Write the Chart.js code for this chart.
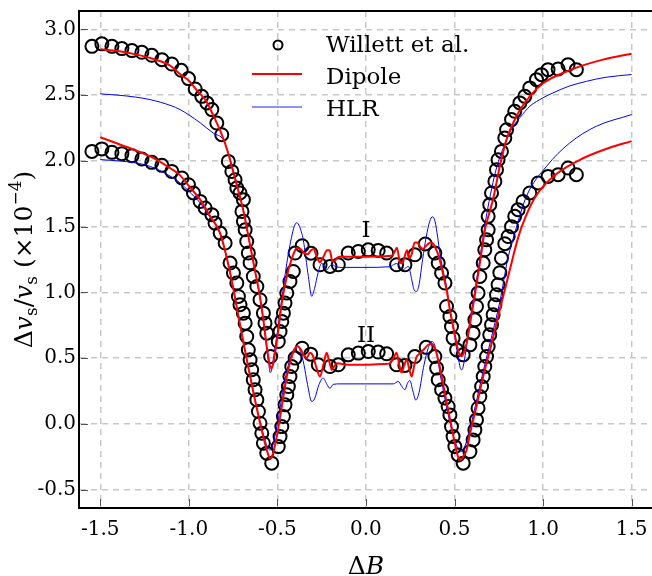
<!DOCTYPE html>
<html>
<head>
  <meta charset="UTF-8">
  <title>Willett vs Dipole vs HLR</title>
  <script src="https://cdn.jsdelivr.net/npm/chart.js"></script>
  <style>
    body { margin: 0; padding: 0; background: white; }
    #grafico { display: block; }
  </style>
</head>
<body>
  <canvas id="grafico" width="652" height="576"></canvas>

  <script>
    // eixos
    const xTickValues = [-1.5, -1.0, -0.5, 0.0, 0.5, 1.0, 1.5];
    const yTickValues = [-0.5, 0.0, 0.5, 1.0, 1.5, 2.0, 2.5, 3.0];

    // Willett et al. - curva I (superior)
    const willettIx = [-1.547,-1.491,-1.434,-1.378,-1.321,-1.265,-1.209,-1.152,-1.096,-1.043,-1.002,-0.964,-0.927,-0.898,-0.870,-0.842,-0.814,-0.777,-0.757,-0.739,-0.729,-0.711,-0.692,-0.700,-0.692,-0.682,-0.673,-0.664,-0.654,-0.636,-0.616,-0.598,-0.579,-0.570,-0.560,-0.538,-0.495,-0.485,-0.475,-0.466,-0.457,-0.447,-0.429,-0.410,-0.400,-0.360,-0.310,-0.259,-0.203,-0.156,-0.100,-0.043,0.013,0.069,0.117,0.173,0.220,0.276,0.335,0.389,0.408,0.427,0.446,0.455,0.474,0.483,0.492,0.512,0.549,0.587,0.605,0.615,0.624,0.633,0.643,0.662,0.671,0.681,0.690,0.690,0.699,0.709,0.728,0.737,0.746,0.765,0.784,0.794,0.822,0.840,0.869,0.897,0.925,0.963,0.991,1.028,1.085,1.141,1.188];
    const willettIy = [2.871,2.890,2.871,2.854,2.839,2.826,2.803,2.770,2.737,2.689,2.626,2.547,2.491,2.441,2.390,2.288,2.199,1.996,1.920,1.857,1.794,1.756,1.705,1.616,1.540,1.476,1.387,1.299,1.225,1.121,1.045,0.944,0.842,0.766,0.690,0.512,0.626,0.702,0.779,0.842,0.919,0.995,1.083,1.159,1.299,1.355,1.298,1.210,1.197,1.210,1.299,1.311,1.324,1.319,1.299,1.210,1.210,1.286,1.368,1.299,1.223,1.147,1.071,0.893,0.817,0.740,0.652,0.563,0.525,0.601,0.690,0.791,0.893,0.995,1.121,1.223,1.324,1.400,1.476,1.578,1.667,1.756,1.844,1.933,2.009,2.072,2.174,2.237,2.314,2.377,2.441,2.491,2.555,2.618,2.656,2.694,2.699,2.732,2.694];

    // Willett et al. - curva II (inferior)
    const willettIIx = [-1.547,-1.491,-1.434,-1.378,-1.321,-1.265,-1.209,-1.152,-1.096,-1.039,-1.002,-0.974,-0.936,-0.908,-0.870,-0.852,-0.823,-0.795,-0.767,-0.748,-0.729,-0.720,-0.711,-0.692,-0.682,-0.673,-0.664,-0.654,-0.645,-0.636,-0.626,-0.616,-0.607,-0.598,-0.588,-0.579,-0.560,-0.532,-0.495,-0.485,-0.475,-0.466,-0.457,-0.447,-0.438,-0.429,-0.419,-0.400,-0.360,-0.312,-0.269,-0.203,-0.156,-0.100,-0.043,0.013,0.069,0.117,0.173,0.220,0.276,0.340,0.389,0.399,0.408,0.427,0.446,0.464,0.474,0.483,0.492,0.502,0.521,0.549,0.587,0.605,0.615,0.624,0.633,0.643,0.653,0.662,0.671,0.681,0.690,0.699,0.709,0.718,0.728,0.737,0.746,0.756,0.765,0.784,0.803,0.822,0.840,0.859,0.887,0.925,0.972,1.028,1.085,1.141,1.188];
    const willettIIy = [2.072,2.091,2.065,2.055,2.040,2.014,1.989,1.966,1.920,1.870,1.819,1.756,1.692,1.642,1.591,1.527,1.451,1.375,1.223,1.147,1.071,0.969,0.906,0.842,0.766,0.664,0.563,0.487,0.411,0.335,0.259,0.183,0.094,0.005,-0.071,-0.147,-0.223,-0.299,-0.173,-0.097,-0.021,0.056,0.145,0.221,0.284,0.360,0.436,0.500,0.575,0.530,0.449,0.436,0.449,0.525,0.538,0.550,0.546,0.533,0.449,0.444,0.512,0.582,0.512,0.424,0.335,0.259,0.196,0.132,0.068,-0.021,-0.097,-0.173,-0.236,-0.299,-0.211,-0.122,-0.046,0.030,0.119,0.208,0.284,0.360,0.436,0.512,0.588,0.677,0.753,0.830,0.906,0.982,1.058,1.150,1.260,1.370,1.425,1.500,1.578,1.629,1.692,1.756,1.832,1.882,1.895,1.946,1.895];

    // Dipole - I
    const dipoleIx = [-1.5,-1.4,-1.3,-1.2,-1.1,-1.05,-1.0,-0.95,-0.9,-0.86,-0.82,-0.78,-0.75,-0.72,-0.69,-0.66,-0.63,-0.6,-0.58,-0.56,-0.545,-0.535,-0.525,-0.513,-0.494,-0.475,-0.447,-0.42,-0.4,-0.39,-0.37,-0.35,-0.33,-0.31,-0.295,-0.28,-0.26,-0.24,-0.22,-0.205,-0.19,-0.178,-0.165,-0.15,-0.1,0,0.1,0.15,0.162,0.175,0.19,0.205,0.22,0.232,0.245,0.258,0.275,0.29,0.305,0.32,0.345,0.365,0.38,0.395,0.41,0.43,0.455,0.475,0.5,0.52,0.532,0.54,0.55,0.568,0.59,0.615,0.643,0.671,0.7,0.718,0.756,0.793,0.85,0.925,1.0,1.15,1.338,1.5];
    const dipoleIy = [2.85,2.835,2.81,2.775,2.72,2.66,2.61,2.53,2.45,2.34,2.22,2.07,1.92,1.77,1.61,1.40,1.19,0.98,0.80,0.59,0.46,0.42,0.45,0.54,0.72,0.92,1.12,1.25,1.32,1.34,1.33,1.30,1.29,1.32,1.33,1.28,1.23,1.27,1.32,1.32,1.24,1.235,1.26,1.27,1.27,1.27,1.275,1.28,1.31,1.34,1.24,1.22,1.28,1.32,1.26,1.29,1.38,1.38,1.35,1.33,1.36,1.38,1.37,1.33,1.28,1.17,1.02,0.86,0.69,0.56,0.52,0.515,0.53,0.61,0.78,0.98,1.22,1.47,1.62,1.71,1.96,2.16,2.34,2.49,2.59,2.69,2.77,2.815];

    // Dipole - II
    const dipoleIIx = [-1.5,-1.4,-1.3,-1.218,-1.1,-1.049,-1.0,-0.936,-0.88,-0.823,-0.767,-0.72,-0.673,-0.626,-0.579,-0.555,-0.541,-0.53,-0.515,-0.504,-0.475,-0.447,-0.419,-0.4,-0.385,-0.37,-0.354,-0.335,-0.316,-0.3,-0.28,-0.26,-0.24,-0.222,-0.208,-0.193,-0.178,-0.165,-0.1,0,0.1,0.135,0.155,0.173,0.188,0.201,0.215,0.23,0.244,0.258,0.272,0.286,0.3,0.323,0.35,0.37,0.39,0.408,0.446,0.483,0.52,0.534,0.548,0.568,0.59,0.615,0.662,0.709,0.756,0.812,0.86,0.9,0.963,1.075,1.226,1.376,1.5];
    const dipoleIIy = [2.18,2.13,2.08,2.034,1.94,1.89,1.81,1.705,1.58,1.45,1.15,0.82,0.49,0.18,-0.10,-0.22,-0.265,-0.25,-0.17,-0.10,0.13,0.36,0.51,0.575,0.59,0.57,0.53,0.50,0.54,0.52,0.43,0.36,0.45,0.54,0.48,0.41,0.44,0.46,0.45,0.45,0.455,0.46,0.50,0.54,0.45,0.39,0.44,0.49,0.42,0.36,0.44,0.51,0.53,0.56,0.60,0.61,0.57,0.49,0.23,-0.02,-0.25,-0.275,-0.25,-0.20,-0.06,0.08,0.36,0.61,0.87,1.17,1.42,1.57,1.74,1.90,2.02,2.10,2.15];

    // HLR - I
    const hlrIx = [-1.5,-1.4,-1.3,-1.218,-1.1,-1.049,-1.0,-0.936,-0.861,-0.805,-0.77,-0.73,-0.69,-0.66,-0.63,-0.6,-0.58,-0.56,-0.548,-0.541,-0.533,-0.52,-0.5,-0.475,-0.447,-0.42,-0.405,-0.391,-0.375,-0.354,-0.325,-0.306,-0.29,-0.27,-0.25,-0.235,-0.222,-0.205,-0.19,-0.17,-0.147,0,0.135,0.155,0.173,0.195,0.21,0.228,0.24,0.255,0.272,0.286,0.3,0.32,0.34,0.36,0.376,0.39,0.405,0.417,0.435,0.455,0.475,0.5,0.52,0.532,0.54,0.548,0.56,0.58,0.6,0.625,0.65,0.68,0.71,0.74,0.77,0.8,0.83,0.87,0.925,1.0,1.056,1.15,1.245,1.35,1.5];
    const hlrIy = [2.51,2.50,2.485,2.466,2.42,2.39,2.35,2.29,2.21,2.16,2.03,1.83,1.61,1.40,1.19,0.97,0.79,0.57,0.45,0.39,0.41,0.52,0.70,0.95,1.22,1.42,1.50,1.53,1.50,1.40,1.12,0.97,1.03,1.15,1.22,1.20,1.17,1.20,1.21,1.195,1.19,1.19,1.195,1.21,1.22,1.19,1.172,1.19,1.197,1.12,1.02,1.007,1.06,1.25,1.42,1.54,1.575,1.54,1.42,1.30,1.17,1.045,0.86,0.67,0.51,0.43,0.41,0.43,0.52,0.72,0.90,1.10,1.32,1.58,1.79,1.96,2.08,2.18,2.26,2.33,2.415,2.48,2.517,2.57,2.605,2.635,2.657];

    // HLR - II
    const hlrIIx = [-1.5,-1.4,-1.3,-1.218,-1.1,-1.049,-1.0,-0.936,-0.88,-0.823,-0.767,-0.72,-0.673,-0.626,-0.579,-0.555,-0.541,-0.53,-0.515,-0.5,-0.475,-0.447,-0.42,-0.4,-0.385,-0.37,-0.35,-0.33,-0.306,-0.29,-0.265,-0.241,-0.22,-0.203,-0.185,-0.147,0,0.154,0.182,0.205,0.22,0.235,0.248,0.265,0.282,0.3,0.325,0.35,0.37,0.385,0.4,0.42,0.446,0.483,0.52,0.54,0.558,0.58,0.615,0.662,0.709,0.756,0.8,0.84,0.906,1.019,1.15,1.3,1.5];
    const hlrIIy = [2.01,2.0,1.985,1.958,1.88,1.832,1.77,1.68,1.57,1.44,1.15,0.82,0.49,0.18,-0.08,-0.18,-0.20,-0.18,-0.10,0.0,0.20,0.40,0.53,0.58,0.59,0.55,0.45,0.30,0.17,0.19,0.30,0.348,0.30,0.27,0.30,0.304,0.304,0.304,0.322,0.28,0.26,0.31,0.33,0.25,0.18,0.24,0.43,0.57,0.626,0.61,0.53,0.37,0.19,-0.04,-0.19,-0.21,-0.17,-0.08,0.12,0.40,0.66,0.93,1.25,1.45,1.73,1.958,2.136,2.263,2.352];

    const pares = (xs, ys) => xs.map((x, i) => ({ x: x, y: ys[i] }));

    const FONTE = 'DejaVu Serif';

    // legenda, anotações, títulos dos eixos e borda superior
    const extras = {
      id: 'extras',
      afterDraw(chart) {
        const ctx = chart.ctx;
        const area = chart.chartArea;
        const sx = chart.scales.x, sy = chart.scales.y;
        ctx.save();

        // borda superior
        ctx.strokeStyle = 'black';
        ctx.lineWidth = 2;
        ctx.beginPath();
        ctx.moveTo(area.left - 1, area.top);
        ctx.lineTo(area.right, area.top);
        ctx.stroke();

        // marcas de tick para dentro
        ctx.strokeStyle = '#555';
        ctx.lineWidth = 1;
        yTickValues.forEach(v => {
          const y = Math.round(sy.getPixelForValue(v)) + 0.5;
          ctx.beginPath(); ctx.moveTo(area.left + 2, y); ctx.lineTo(area.left + 9, y); ctx.stroke();
        });
        xTickValues.forEach(v => {
          const x = Math.round(sx.getPixelForValue(v)) + 0.5;
          ctx.beginPath(); ctx.moveTo(x, area.bottom - 2); ctx.lineTo(x, area.bottom - 9); ctx.stroke();
        });

        // legenda
        ctx.fillStyle = 'black';
        ctx.font = '23px "' + FONTE + '"';
        ctx.textBaseline = 'alphabetic';
        ctx.textAlign = 'left';
        ctx.lineWidth = 2;
        ctx.strokeStyle = 'black';
        ctx.beginPath(); ctx.arc(278, 45, 4.5, 0, Math.PI * 2); ctx.stroke();
        ctx.fillText('Willett et al.', 326, 52);
        ctx.strokeStyle = '#ff0000';
        ctx.beginPath(); ctx.moveTo(252, 74); ctx.lineTo(302, 74); ctx.stroke();
        ctx.fillText('Dipole', 326, 84);
        ctx.strokeStyle = '#6a6aff';
        ctx.lineWidth = 1.5;
        ctx.beginPath(); ctx.moveTo(252, 107); ctx.lineTo(302, 107); ctx.stroke();
        ctx.fillText('HLR', 326, 116);

        // anotações I e II
        ctx.textAlign = 'center';
        ctx.fillText('I', 366, 237);
        ctx.fillText('II', 366, 342);

        // título do eixo x: ΔB
        ctx.textAlign = 'left';
        ctx.font = '25px "' + FONTE + '"';
        const wD = ctx.measureText('Δ').width;
        ctx.font = 'italic 25px "' + FONTE + '"';
        const wB = ctx.measureText('B').width;
        const x0 = 366 - (wD + wB) / 2;
        ctx.font = '25px "' + FONTE + '"';
        ctx.fillText('Δ', x0, 574);
        ctx.font = 'italic 25px "' + FONTE + '"';
        ctx.fillText('B', x0 + wD, 574);

        // título do eixo y: Δv_s/v_s (×10^-4)
        const partes = [
          { t: 'Δ', f: '25px', dy: 0 },
          { t: 'v', f: 'italic 25px', dy: 0 },
          { t: 's', f: '17px', dy: 5 },
          { t: '/', f: '25px', dy: 0 },
          { t: 'v', f: 'italic 25px', dy: 0 },
          { t: 's', f: '17px', dy: 5 },
          { t: ' (×10', f: '25px', dy: 0 },
          { t: '−4', f: '17px', dy: -11 },
          { t: ')', f: '25px', dy: 0 }
        ];
        let total = 0;
        partes.forEach(p => {
          ctx.font = p.f + ' "' + FONTE + '"';
          p.w = ctx.measureText(p.t).width;
          total += p.w;
        });
        ctx.translate(32, (area.top + area.bottom) / 2);
        ctx.rotate(-Math.PI / 2);
        let px = -total / 2;
        partes.forEach(p => {
          ctx.font = p.f + ' "' + FONTE + '"';
          ctx.fillText(p.t, px, p.dy);
          px += p.w;
        });

        ctx.restore();
      }
    };

    const grade = {
      color: '#c8c8c8',
      lineWidth: 1.5,
      drawTicks: false
    };

    const linha = (dados, cor, largura, ordem) => ({
      data: dados,
      showLine: true,
      borderColor: cor,
      borderWidth: largura,
      pointRadius: 0,
      cubicInterpolationMode: 'monotone',
      order: ordem
    });

    const circulos = dados => ({
      data: dados,
      showLine: false,
      pointRadius: 6.5,
      pointBorderWidth: 2,
      pointBorderColor: 'black',
      pointBackgroundColor: 'rgba(0,0,0,0)',
      order: 3
    });

    new Chart(document.getElementById('grafico'), {
      type: 'scatter',
      data: {
        datasets: [
          linha(pares(dipoleIx, dipoleIy), '#ff0000', 2, 1),
          linha(pares(dipoleIIx, dipoleIIy), '#ff0000', 2, 1),
          linha(pares(hlrIx, hlrIy), '#0000ff', 1, 2),
          linha(pares(hlrIIx, hlrIIy), '#0000ff', 1, 2),
          circulos(pares(willettIx, willettIy)),
          circulos(pares(willettIIx, willettIIy))
        ]
      },
      options: {
        responsive: false,
        animation: false,
        devicePixelRatio: 1,
        layout: { autoPadding: false, padding: { top: 11, right: 0, left: 0, bottom: 0 } },
        plugins: {
          legend: { display: false },
          tooltip: { enabled: false }
        },
        scales: {
          x: {
            type: 'linear',
            min: -1.62,
            max: 1.615,
            afterBuildTicks: s => { s.ticks = xTickValues.map(v => ({ value: v })); },
            afterFit: s => { s.height = 68; s.paddingLeft = 0; s.paddingRight = 0; },
            ticks: {
              callback: v => v.toFixed(1),
              color: 'black',
              font: { family: FONTE, size: 20 },
              padding: 10,
              maxRotation: 0
            },
            grid: grade,
            border: { color: 'black', width: 2, dash: [6, 5] }
          },
          y: {
            type: 'linear',
            min: -0.64,
            max: 3.14,
            afterBuildTicks: s => { s.ticks = yTickValues.map(v => ({ value: v })); },
            afterFit: s => { s.width = 79; s.paddingTop = 0; s.paddingBottom = 0; },
            ticks: {
              callback: v => v.toFixed(1),
              color: 'black',
              font: { family: FONTE, size: 20 },
              padding: 3
            },
            grid: grade,
            border: { color: 'black', width: 2, dash: [6, 5] }
          }
        }
      },
      plugins: [extras]
    });
  </script>
</body>
</html>
